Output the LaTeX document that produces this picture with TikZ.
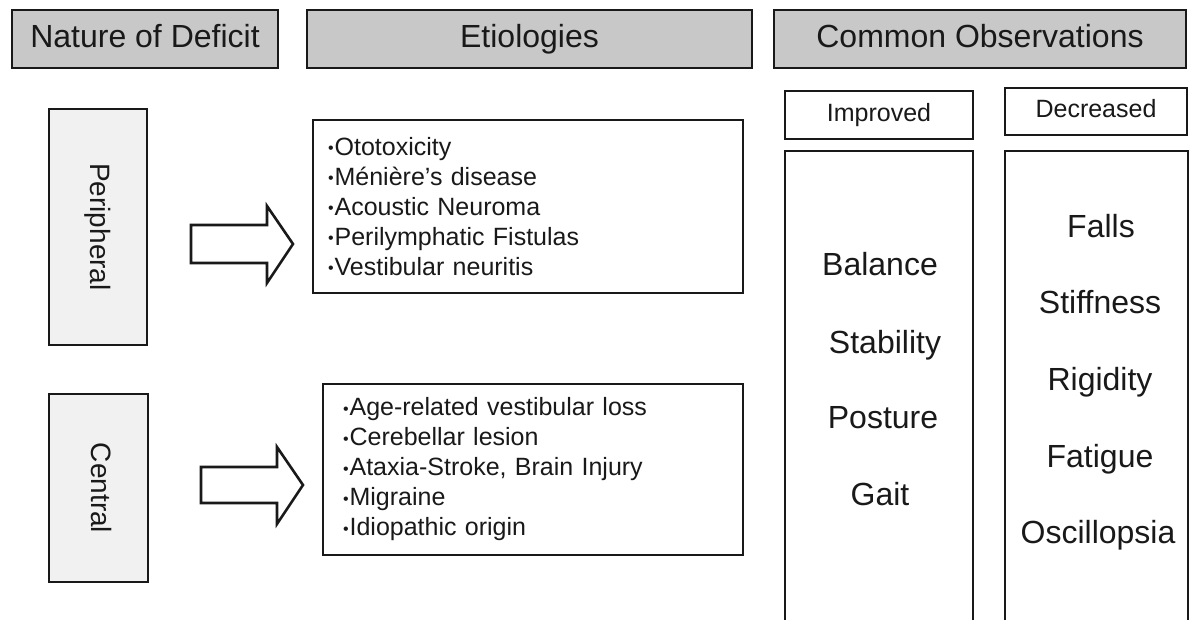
\documentclass[tikz,border=0pt]{standalone}
\usepackage{fontspec}
\setmainfont{Liberation Sans}
\definecolor{hdrgray}{RGB}{200,200,200}
\definecolor{sidegray}{RGB}{241,241,241}
\definecolor{ink}{RGB}{25,25,25}
\newcommand{\bul}{\raisebox{1.5pt}{\fontsize{16}{16}\selectfont •}\hspace{1pt}}
\begin{document}
\begin{tikzpicture}[x=1pt,y=-1pt,
  box/.style={draw=ink, line width=2.6pt, inner sep=0pt, outer sep=0pt},
  hdr/.style={box, fill=hdrgray, font=\fontsize{32}{36}\selectfont, text height=23pt, text depth=6pt, text=ink},
  side/.style={box, fill=sidegray},
  sidetext/.style={rotate=-90, font=\fontsize{28}{32}\selectfont, text=ink, text height=20pt, text depth=5pt},
  listbox/.style={box, fill=white, align=left, font=\fontsize{25}{30}\selectfont, text=ink},
  colhdr/.style={box, fill=white, font=\fontsize{25}{28}\selectfont, text height=18pt, text depth=5pt, text=ink},
  item/.style={anchor=base, font=\fontsize{32}{36}\selectfont, text=ink, inner sep=0pt},
  blockarrow/.style={draw=ink, line width=2.6pt, fill=white, line join=miter}
]
\useasboundingbox (0,0) rectangle (1190,620);

% headers
\node[hdr, minimum width=266pt, minimum height=58pt] (nat) at (145,39) {Nature of Deficit};
\node[hdr, minimum width=445pt, minimum height=58pt] (eti) at (529.5,39) {Etiologies};
\node[hdr, minimum width=412pt, minimum height=58pt] (obs) at (980,39) {Common Observations};

% nature boxes
\node[side, minimum width=98pt, minimum height=236pt] (per) at (98,227) {};
\node[sidetext] (pertxt) at (per.center) {Peripheral};
\node[side, minimum width=99pt, minimum height=188pt] (cen) at (98.5,488) {};
\node[sidetext] (centxt) at (cen.center) {Central};

% block arrows
\draw[blockarrow] (191,225) -- (267,225) -- (267,206) -- (293,244) -- (267,283) -- (267,263) -- (191,263) -- cycle;
\draw[blockarrow] (201,467) -- (277,467) -- (277,447) -- (303,485) -- (277,524) -- (277,503) -- (201,503) -- cycle;

% etiology lists
\node[listbox, minimum height=173pt, text width=400pt, inner xsep=15pt] (plist) at (528,206.5)
  {\bul Ototoxicity\\ \bul Ménière's disease\\ \bul Acoustic Neuroma\\ \bul Perilymphatic Fistulas\\ \bul Vestibular neuritis};
\node[listbox, minimum height=171pt, text width=380pt, inner xsep=20pt] (clist) at (533,469.5)
  {\bul Age-related vestibular loss\\ \bul Cerebellar lesion\\ \bul Ataxia-Stroke, Brain Injury\\ \bul Migraine\\ \bul Idiopathic origin};

% observation columns
\node[colhdr, minimum width=188pt, minimum height=48pt] (imp) at (879,115) {Improved};
\node[colhdr, minimum width=182pt, minimum height=47pt] (dec) at (1096,111.5) {Decreased};
\node[box, fill=white, minimum width=188pt, minimum height=509pt, anchor=north] (impcol) at (879,151) {};
\node[box, fill=white, minimum width=183pt, minimum height=509pt, anchor=north] (deccol) at (1096.5,151) {};

\node[item] (bal) at (880,275) {Balance};
\node[item] (sta) at (885,353) {Stability};
\node[item] (pos) at (883,428) {Posture};
\node[item] (gai) at (880,505) {Gait};

\node[item] (fal) at (1101,237) {Falls};
\node[item] (sti) at (1100,313) {Stiffness};
\node[item] (rig) at (1100,390) {Rigidity};
\node[item] (fat) at (1100,467) {Fatigue};
\node[item] (osc) at (1098,543) {Oscillopsia};
\end{tikzpicture}
\end{document}
